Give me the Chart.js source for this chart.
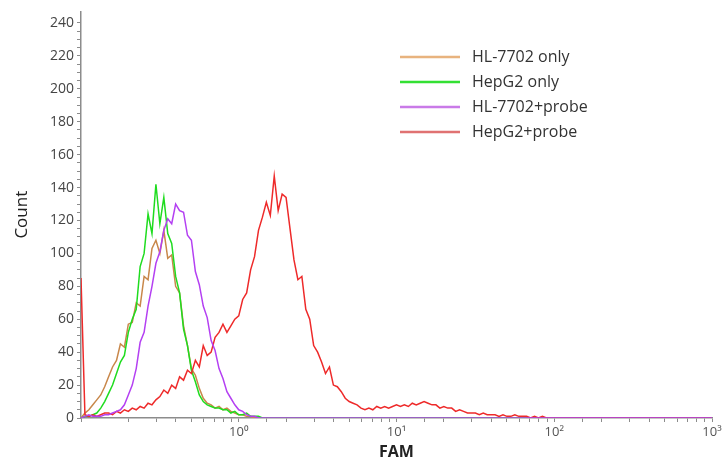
<!DOCTYPE html>
<html>
<head>
<meta charset="utf-8">
<title>FAM histogram</title>
<script src="https://cdn.jsdelivr.net/npm/chart.js@4/dist/chart.umd.min.js"></script>
<style>
  html, body { margin: 0; padding: 0; background: #ffffff; }
  #wrap { width: 724px; height: 462px; }
</style>
</head>
<body>
<div id="wrap"><canvas id="chart" width="724" height="462"></canvas></div>
<script>
// FAM channel centres (log-spaced, 40 channels per decade up to 10^2)
const fam = [
  0.1, 0.1059, 0.1122, 0.1189, 0.1259, 0.1334, 0.1413, 0.1496, 0.1585, 0.1679,
  0.1778, 0.1884, 0.1995, 0.2113, 0.2239, 0.2371, 0.2512, 0.2661, 0.2818, 0.2985,
  0.3162, 0.335, 0.3548, 0.3758, 0.3981, 0.4217, 0.4467, 0.4732, 0.5012, 0.5309,
  0.5623, 0.5957, 0.631, 0.6683, 0.7079, 0.7499, 0.7943, 0.8414, 0.8913, 0.9441,
  1, 1.059, 1.122, 1.189, 1.259, 1.334, 1.413, 1.496, 1.585, 1.679,
  1.778, 1.884, 1.995, 2.113, 2.239, 2.371, 2.512, 2.661, 2.818, 2.985,
  3.162, 3.35, 3.548, 3.758, 3.981, 4.217, 4.467, 4.732, 5.012, 5.309,
  5.623, 5.957, 6.31, 6.683, 7.079, 7.499, 7.943, 8.414, 8.913, 9.441,
  10, 10.59, 11.22, 11.89, 12.59, 13.34, 14.13, 14.96, 15.85, 16.79,
  17.78, 18.84, 19.95, 21.13, 22.39, 23.71, 25.12, 26.61, 28.18, 29.85,
  31.62, 33.5, 35.48, 37.58, 39.81, 42.17, 44.67, 47.32, 50.12, 53.09,
  56.23, 59.57, 63.1, 66.83, 70.79, 74.99, 79.43, 84.14, 89.13, 94.41,
  100, 177.8, 316.2, 562.3, 1000
];

// Event counts per channel
const hl7702Only = [
  0, 3, 5, 8, 11, 14, 19, 25, 31, 35,
  45, 43, 57, 58, 70, 68, 86, 84, 103, 108,
  100, 114, 97, 99, 80, 76, 56, 44, 30, 26,
  18, 12, 9, 8, 6, 7, 5, 6, 4, 3,
  2, 2, 1, 1, 0, 0, 0, 0, 0, 0,
  0, 0, 0, 0, 0, 0, 0, 0, 0, 0,
  0, 0, 0, 0, 0, 0, 0, 0, 0, 0,
  0, 0, 0, 0, 0, 0, 0, 0, 0, 0,
  0, 0, 0, 0, 0, 0, 0, 0, 0, 0,
  0, 0, 0, 0, 0, 0, 0, 0, 0, 0,
  0, 0, 0, 0, 0, 0, 0, 0, 0, 0,
  0, 0, 0, 0, 0, 0, 0, 0, 0, 0,
  0, 0, 0, 0, 0
];

const hepg2Only = [
  0, 1, 1, 2, 3, 6, 10, 15, 20, 27,
  34, 38, 52, 60, 66, 92, 100, 124, 112, 142,
  118, 134, 112, 106, 86, 76, 54, 44, 29, 22,
  14, 10, 8, 7, 6, 6, 5, 5, 3, 4,
  2, 2, 3, 1, 1, 1, 0, 0, 0, 0,
  0, 0, 0, 0, 0, 0, 0, 0, 0, 0,
  0, 0, 0, 0, 0, 0, 0, 0, 0, 0,
  0, 0, 0, 0, 0, 0, 0, 0, 0, 0,
  0, 0, 0, 0, 0, 0, 0, 0, 0, 0,
  0, 0, 0, 0, 0, 0, 0, 0, 0, 0,
  0, 0, 0, 0, 0, 0, 0, 0, 0, 0,
  0, 0, 0, 0, 0, 0, 0, 0, 0, 0,
  0, 0, 0, 0, 0
];

const hl7702Probe = [
  0, 1, 2, 1, 1, 1, 2, 2, 3, 4,
  5, 8, 14, 20, 30, 46, 52, 68, 80, 94,
  101, 114, 121, 118, 130, 126, 125, 111, 108, 89,
  81, 68, 61, 47, 41, 30, 24, 16, 12, 8,
  5, 4, 2, 1, 1, 0, 0, 0, 0, 0,
  0, 0, 0, 0, 0, 0, 0, 0, 0, 0,
  0, 0, 0, 0, 0, 0, 0, 0, 0, 0,
  0, 0, 0, 0, 0, 0, 0, 0, 0, 0,
  0, 0, 0, 0, 0, 0, 0, 0, 0, 0,
  0, 0, 0, 0, 0, 0, 0, 0, 0, 0,
  0, 0, 0, 0, 0, 0, 0, 0, 0, 0,
  0, 0, 0, 0, 0, 0, 0, 0, 0, 0,
  0, 0, 0, 0, 0
];

const hepg2Probe = [
  85, 2, 1, 2, 1, 2, 3, 3, 2, 4,
  3, 5, 4, 6, 5, 7, 6, 9, 8, 11,
  13, 17, 15, 20, 18, 25, 23, 29, 27, 35,
  31, 44, 38, 40, 49, 52, 57, 52, 56, 60,
  62, 72, 76, 90, 98, 114, 122, 131, 123, 147,
  126, 136, 134, 115, 96, 84, 86, 66, 60, 44,
  40, 34, 27, 31, 20, 19, 16, 12, 10, 9,
  8, 6, 5, 6, 5, 7, 6, 7, 6, 7,
  8, 7, 8, 7, 9, 8, 9, 10, 9, 8,
  8, 6, 7, 6, 6, 4, 5, 4, 3, 3,
  3, 2, 3, 2, 2, 2, 1, 2, 1, 1,
  2, 1, 1, 1, 0, 1, 0, 1, 0, 0,
  0, 0, 0, 0, 0
];

const seriesLabels = ['HL-7702 only', 'HepG2 only', 'HL-7702+probe', 'HepG2+probe'];
const xTickLabels = { 1: '10\u2070', 10: '10\u00B9', 100: '10\u00B2', 1000: '10\u00B3' };

const lineColors   = ['#c8874a', '#1fdc1f', '#b440f2', '#ee2a2a'];
const legendColors = ['#e8b37e', '#33e033', '#c97ae8', '#e07272'];

function toPoints(values) {
  return fam.map((x, i) => ({ x: x, y: values[i] }));
}

function dataset(idx, values, order) {
  return {
    label: seriesLabels[idx],
    data: toPoints(values),
    borderColor: lineColors[idx],
    backgroundColor: lineColors[idx],
    borderWidth: 1.5,
    pointRadius: 0,
    tension: 0,
    fill: false,
    order: order
  };
}

// Legend block in the upper right of the plot
const cornerLegend = {
  id: 'cornerLegend',
  afterDraw(chart) {
    const ctx = chart.ctx;
    ctx.save();
    ctx.font = '16px "Open Sans"';
    ctx.textBaseline = 'middle';
    ctx.textAlign = 'left';
    seriesLabels.forEach((label, i) => {
      const y = 57 + i * 25;
      ctx.strokeStyle = legendColors[i];
      ctx.lineWidth = 2.5;
      ctx.beginPath();
      ctx.moveTo(400, y);
      ctx.lineTo(460, y);
      ctx.stroke();
      ctx.fillStyle = '#333333';
      ctx.fillText(label, 472, y);
    });
    ctx.restore();
  }
};

const whiteBackground = {
  id: 'whiteBackground',
  beforeDraw(chart) {
    const ctx = chart.ctx;
    ctx.save();
    ctx.fillStyle = '#ffffff';
    ctx.fillRect(0, 0, chart.width, chart.height);
    ctx.restore();
  }
};

const axisColor = '#8c8c8c';

new Chart(document.getElementById('chart'), {
  type: 'line',
  data: {
    datasets: [
      dataset(0, hl7702Only, 3),
      dataset(1, hepg2Only, 2),
      dataset(2, hl7702Probe, 0),
      dataset(3, hepg2Probe, 1)
    ]
  },
  options: {
    responsive: false,
    animation: false,
    devicePixelRatio: 1,
    layout: { padding: { top: 9, right: 12, bottom: 0, left: 0 } },
    plugins: {
      legend: { display: false },
      tooltip: { enabled: false }
    },
    scales: {
      x: {
        type: 'logarithmic',
        min: 0.1,
        max: 1000,
        border: { color: axisColor, width: 1.5 },
        grid: { drawOnChartArea: false, drawTicks: true, tickLength: 4, tickColor: axisColor, color: axisColor },
        ticks: {
          autoSkip: false,
          maxRotation: 0,
          padding: 2,
          color: '#555555',
          font: { family: 'Open Sans', size: 13 },
          callback: (v) => xTickLabels[v] ?? ''
        },
        title: {
          display: true,
          text: 'FAM',
          color: '#222222',
          font: { family: 'Open Sans', size: 16, weight: 'bold' },
          padding: { top: 0, bottom: 0 }
        },
        afterFit: (s) => { s.height = 44; }
      },
      y: {
        type: 'linear',
        min: 0,
        max: 247,
        border: { color: axisColor, width: 1.5 },
        grid: { drawOnChartArea: false, drawTicks: true, tickLength: 4, tickColor: axisColor, color: axisColor },
        ticks: {
          stepSize: 5,
          autoSkip: false,
          padding: 3,
          color: '#444444',
          font: { family: 'Open Sans', size: 14 },
          callback: (v) => (v % 20 === 0 ? String(v) : '')
        },
        afterBuildTicks: (s) => { s.ticks = s.ticks.filter((t) => t.value % 5 === 0); },
        title: {
          display: true,
          text: 'Count',
          color: '#222222',
          font: { family: 'Open Sans', size: 17 },
          padding: { top: 12, bottom: 0 }
        },
        afterFit: (s) => { s.width = 81; }
      }
    }
  },
  plugins: [whiteBackground, cornerLegend]
});
</script>
</body>
</html>
